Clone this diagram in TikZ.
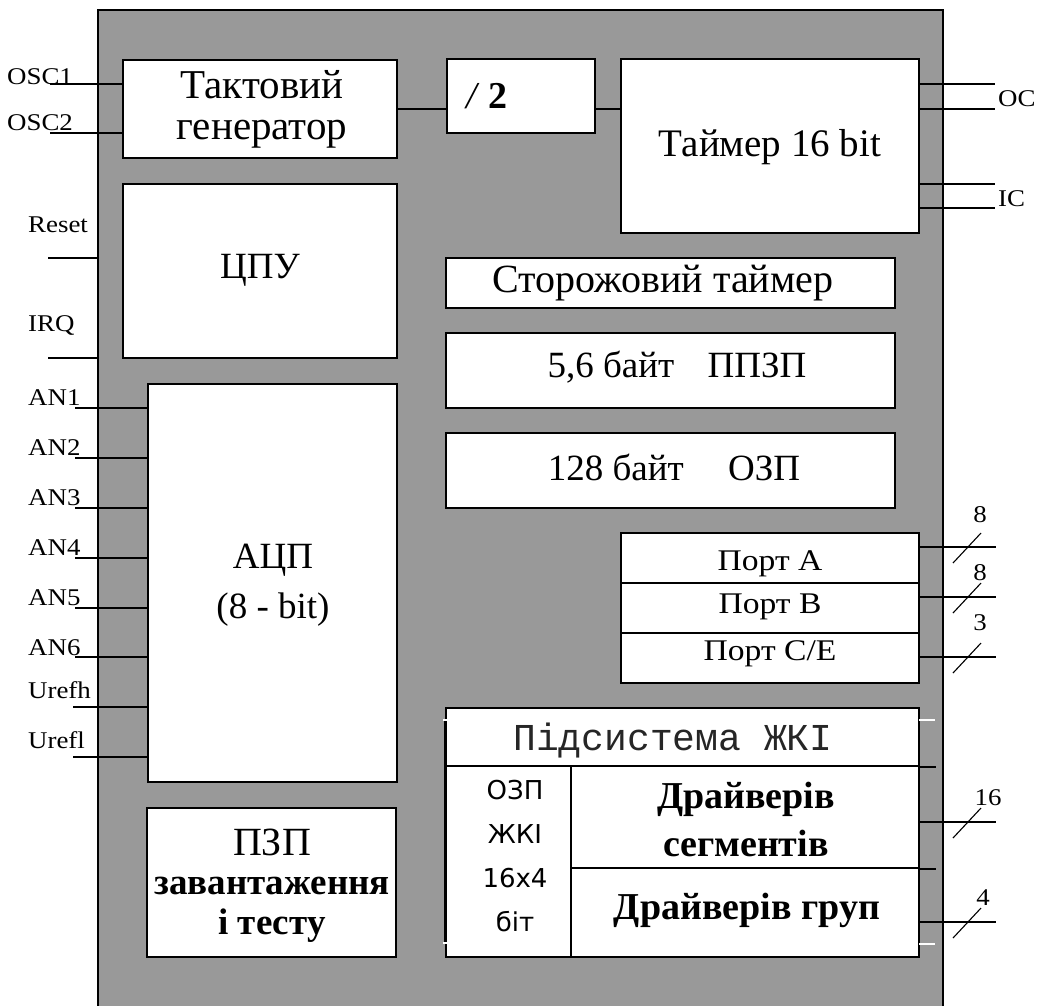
\documentclass[tikz,border=0pt]{standalone}
\usepackage{fontspec}
\setmainfont{Liberation Serif}
\newfontfamily\pinfont[FakeStretch=1.12]{Liberation Serif}
\newfontfamily\lcdmono{Liberation Mono}
\newfontfamily\lcdsans{DejaVu Sans}
\definecolor{chipgray}{RGB}{153,153,153}
\tikzset{
  blk/.style={draw=black, line width=1.8pt, fill=white, inner sep=0pt},
  wire/.style={draw=black, line width=1.4pt},
  pinlbl/.style={inner sep=0pt, font=\pinfont\fontsize{24}{26}\selectfont},
  txt/.style={inner sep=0pt, align=center},
  busmark/.style={draw=black, line width=1.1pt},
}
\begin{document}
\begin{tikzpicture}[x=1pt,y=-1pt]
\useasboundingbox (0,0) rectangle (1040,1005);
\fill[white] (0,0) rectangle (1040,1005);
% chip body
\path[fill=chipgray, draw=black, line width=1.8pt] (98,10) rectangle (943,1020);

% blocks
\node[blk, minimum width=274pt, minimum height=98pt] (clk) at (260,109) {};
\node[blk, minimum width=148pt, minimum height=74pt] (div) at (521,96) {};
\node[blk, minimum width=298pt, minimum height=174pt] (tmr) at (770,146) {};
\node[blk, minimum width=274pt, minimum height=174pt] (cpu) at (260,271) {};
\node[blk, minimum width=449pt, minimum height=50pt] (wdt) at (670.5,283) {};
\node[blk, minimum width=449pt, minimum height=75pt] (eep) at (670.5,370.5) {};
\node[blk, minimum width=449pt, minimum height=75pt] (ram) at (670.5,470.5) {};
\node[blk, minimum width=298pt, minimum height=50pt] (porta) at (770,558) {};
\node[blk, minimum width=298pt, minimum height=50pt] (portb) at (770,608) {};
\node[blk, minimum width=298pt, minimum height=50pt] (portc) at (770,658) {};
\node[blk, minimum width=249pt, minimum height=398pt] (adc) at (272.5,583) {};
\node[blk, minimum width=249pt, minimum height=149pt] (rom) at (271.5,882.5) {};
% LCD subsystem
\node[blk, minimum width=473pt, minimum height=58pt] (lcdt) at (682.5,737) {};
\node[blk, minimum width=125pt, minimum height=191pt] (lcdram) at (508.5,861.5) {};
\node[blk, minimum width=348pt, minimum height=102pt] (seg) at (745,817) {};
\node[blk, minimum width=348pt, minimum height=89pt] (grp) at (745,912.5) {};
\draw[line width=3pt] (445,720) -- (445,943);
\draw[white, line width=1.2pt] (443,720) -- (450,720) (443,943) -- (450,943);

% block texts
\node[txt, font=\fontsize{41}{41}\selectfont] (clkt) at (262,109) {Тактовий\\генератор};
\node[txt, font=\fontsize{38}{38}\selectfont] (divt) at (487,96) {\itshape /\hspace{0.3em}\bfseries\upshape 2};
\node[txt, font=\fontsize{39}{38}\selectfont] (tmrt) at (770,147) {Таймер 16 bit};
\node[txt, font=\fontsize{37}{38}\selectfont] (cput) at (260,270) {ЦПУ};
\node[txt, font=\fontsize{40}{36}\selectfont] (wdtt) at (663,283) {Сторожовий таймер};
\node[txt, font=\fontsize{37}{36}\selectfont] (eept) at (677,367) {5,6 байт\hspace{0.9em}ППЗП};
\node[txt, font=\fontsize{37}{36}\selectfont] (ramt) at (674,467) {128 байт\hspace{1.2em}ОЗП};
\node[txt, font=\pinfont\fontsize{30}{30}\selectfont] (portat) at (770,564) {Порт A};
\node[txt, font=\pinfont\fontsize{30}{30}\selectfont] (portbt) at (770,607) {Порт B};
\node[txt, font=\pinfont\fontsize{30}{30}\selectfont] (portct) at (770,654) {Порт C/E};
\node[txt, font=\fontsize{37}{50}\selectfont] (adct) at (273,585) {АЦП\\(8 - bit)};
\node[txt, font=\fontsize{40}{44}\selectfont] (romt1) at (272,842) {ПЗП};
\node[txt, font=\bfseries\fontsize{37}{40}\selectfont] (romt2) at (272,910) {завантаження\\і тесту};
\node[txt, font=\lcdmono\fontsize{38}{40}\selectfont, text=black!85] (lcdtt) at (673,740) {Підсистема ЖКІ};
\node[txt, font=\lcdsans\fontsize{26}{44}\selectfont] (lcdramt) at (515,856) {ОЗП\\ЖКІ\\16х4\\біт};
\node[txt, font=\bfseries\fontsize{38}{48}\selectfont] (segt) at (746,819) {Драйверів\\сегментів};
\node[txt, font=\bfseries\fontsize{38}{40}\selectfont] (grpt) at (747,910) {Драйверів груп};

% internal connections
\draw[wire] (clk.east) -- (clk.east -| div.west);
\draw[wire] (div.east |- clk.east) -- (clk.east -| tmr.west);
\draw[wire] (lcdt.south east) -- ++(16,0);
\draw[wire] (seg.south east) -- ++(16,0);
\draw[white, line width=1.2pt] (919,720) -- (935,720) (919,944) -- (935,944);

% left pins
\coordinate (posc1) at (50,84);
\coordinate (posc2) at (50,133);
\coordinate (preset) at (48,258);
\coordinate (pirq) at (48,358);
\draw[wire] (posc1) -- (posc1 -| clk.west);
\draw[wire] (posc2) -- (posc2 -| clk.west);
\draw[wire] (preset) -- (98,258);
\draw[wire] (pirq) -- (98,358);
\node[pinlbl, anchor=west] (losc1) at (7,77) {OSC1};
\node[pinlbl, anchor=west] (losc2) at (7,123) {OSC2};
\node[pinlbl, anchor=west] (lreset) at (28,225) {Reset};
\node[pinlbl, anchor=west] (lirq) at (28,325) {IRQ};
\foreach \i/\y/\ly in {1/408/398, 2/458/448, 3/508/498, 4/558/548, 5/608/598, 6/657/648} {
  \coordinate (pan\i) at (75,\y);
  \draw[wire] (pan\i) -- (pan\i -| adc.west);
  \node[pinlbl, anchor=west] (lan\i) at (28,\ly) {AN\i};
}
\coordinate (prefh) at (73,707);
\coordinate (prefl) at (73,757);
\draw[wire] (prefh) -- (prefh -| adc.west);
\draw[wire] (prefl) -- (prefl -| adc.west);
\node[pinlbl, anchor=west] (lrefh) at (28,690) {Urefh};
\node[pinlbl, anchor=west] (lrefl) at (28,740) {Urefl};

% right pins: timer
\foreach \n/\y in {oc1/84, oc2/109, ic1/184, ic2/208} {
  \coordinate (p\n) at (995,\y);
  \draw[wire] (tmr.east |- p\n) -- (p\n);
}
\node[pinlbl, anchor=west] (loc) at (998,99) {OC};
\node[pinlbl, anchor=west] (lic) at (998,199) {IC};

% right pins: ports and LCD buses
\foreach \n/\src/\y/\lbl/\ly/\lx in {pa/porta/547/8/515/980, pb/portb/597/8/573/980, pc/portc/657/3/623/980, pseg/seg/822/16/798/988, pgrp/grp/922/4/898/983} {
  \coordinate (\n) at (996,\y);
  \draw[wire] (\src.east |- \n) -- (\n);
  \draw[busmark] (953,\y+16) -- (981,\y-14);
  \node[pinlbl] (l\n) at (\lx,\ly) {\lbl};
}
\end{tikzpicture}
\end{document}
